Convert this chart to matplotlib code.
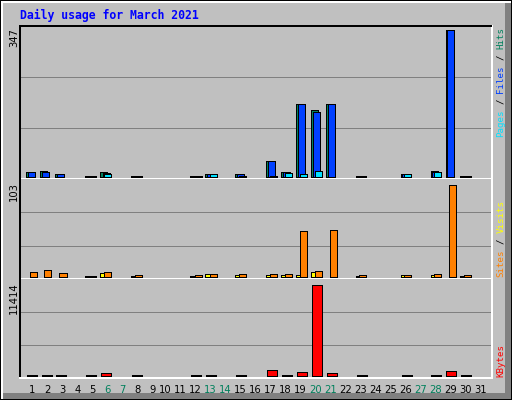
import matplotlib
matplotlib.use("Agg")
import matplotlib.pyplot as plt
from matplotlib.patches import Rectangle

# ---------------- data ----------------
days = list(range(1, 32))
hits   = [11, 13, 6, 0, 1, 11, 0, 1, 0, 0, 0, 1, 6, 0, 6, 0, 37, 11, 172, 156, 172, 0, 1, 0, 0, 5, 0, 13, 347, 1, 0]
files  = [11, 11, 6, 0, 1, 9, 0, 1, 0, 0, 0, 1, 6, 0, 5, 0, 37, 10, 172, 152, 172, 0, 1, 0, 0, 5, 0, 11, 346, 1, 0]
pages  = [0, 0, 0, 0, 1, 6, 0, 1, 0, 0, 0, 1, 6, 0, 1, 0, 1, 8, 6, 13, 0, 0, 1, 0, 0, 5, 0, 10, 0, 1, 0]
visits = [0, 0, 0, 0, 1, 4, 0, 1, 0, 0, 0, 1, 3, 0, 2, 0, 2, 2, 2, 5, 0, 0, 1, 0, 0, 2, 0, 2, 0, 1, 0]
sites  = [5, 7, 4, 0, 1, 5, 0, 2, 0, 0, 0, 2, 3, 0, 3, 0, 3, 3, 51, 6, 52, 0, 2, 0, 0, 2, 0, 3, 103, 2, 0]
kbytes = [100, 100, 100, 0, 100, 330, 0, 100, 0, 0, 0, 100, 100, 0, 100, 0, 665, 60, 415, 11414, 290, 0, 60, 0, 0, 60, 0, 60, 540, 80, 0]
weekend_days = [6, 7, 13, 14, 20, 21, 27, 28]
title = "Daily usage for March 2021"

# ---------------- style ----------------
W, H = 512, 400
BG = "#c0c0c0"
C_HITS, C_FILES, C_PAGES = "#00805c", "#0040ff", "#00e0ff"
C_VISITS, C_SITES, C_KB = "#ffff00", "#ff8000", "#ff0000"
PX = 0.72  # one pixel in points

fig = plt.figure(figsize=(W / 100, H / 100), dpi=100, facecolor=BG)

def fx(x):
    return x / W

def fy(y):
    return 1 - y / H

# outer frame
def prect(x0, y0, x1, y1, color):
    fig.patches.append(Rectangle((fx(x0), fy(y1)), fx(x1) - fx(x0), fy(y0) - fy(y1),
                                 transform=fig.transFigure, facecolor=color,
                                 edgecolor="none", zorder=-10))

prect(0, 0, 512, 400, "black")
prect(1, 1, 511, 399, "white")
prect(3, 3, 511, 399, "#808080")
prect(3, 3, 505, 393, BG)

X0, X1 = 20, 491.5

def xdata(px):
    return 1 + (px - 25) / 15.0

def add_panel(top, bottom, zero_px, max_px, maxval, top_spine):
    ax = fig.add_axes([fx(X0), fy(bottom), fx(X1) - fx(X0), fy(top) - fy(bottom)])
    scale = (zero_px - max_px) / maxval
    ax.set_ylim(-(bottom - zero_px) / scale, maxval + (max_px - top) / scale)
    ax.set_xlim(xdata(X0), xdata(X1))
    ax.set_facecolor(BG)
    for f in (1 / 3, 2 / 3):
        ax.plot([0, 1], [f, f], transform=ax.transAxes, color="#808080", lw=PX, zorder=0.5)
    ax.spines["left"].set_color("black")
    ax.spines["left"].set_linewidth(2 * PX)
    ax.spines["right"].set_color("white")
    ax.spines["right"].set_linewidth(2 * PX)
    ax.spines["bottom"].set_color("white")
    ax.spines["bottom"].set_linewidth(2 * PX)
    if top_spine:
        ax.spines["top"].set_color("black")
        ax.spines["top"].set_linewidth(2 * PX)
    else:
        ax.spines["top"].set_visible(False)
    ax.set_yticks([])
    ax.set_xticks([])
    return ax

def bars(ax, vals, offset_px, width_px, color):
    xs = [d + offset_px / 15.0 for d, v in zip(days, vals) if v > 0]
    hs = [v for v in vals if v > 0]
    ax.bar(xs, hs, width=width_px / 15.0, align="edge", color=color,
           edgecolor="black", linewidth=PX, zorder=2, antialiased=False)

ax1 = add_panel(25.5, 179, 176.5, 29.5, max(hits), True)
bars(ax1, hits, 0.5, 7, C_HITS)
bars(ax1, files, 2.5, 7, C_FILES)
bars(ax1, pages, 4.5, 7, C_PAGES)

ax2 = add_panel(179, 279, 276.5, 184.5, max(sites), False)
bars(ax2, visits, 0.5, 7, C_VISITS)
bars(ax2, sites, 4.5, 7, C_SITES)

ax3 = add_panel(279, 377.5, 375.5, 284.5, max(kbytes), False)
bars(ax3, kbytes, 1.5, 10, C_KB)

# day labels
ax3.set_xticks([d + (7.5 if d < 10 else 5.5) / 15.0 for d in days])
ax3.set_xticklabels([str(d) for d in days], fontsize=7.2, family="DejaVu Sans")
for lab, d in zip(ax3.get_xticklabels(), days):
    lab.set_color(C_HITS if d in weekend_days else "black")
ax3.tick_params(axis="x", length=0, pad=5.5)

# left max labels
for txt, ytop in ((str(max(hits)), 28), (str(max(sites)), 182), (str(max(kbytes)), 282)):
    fig.text(fx(14), fy(ytop), txt, rotation=90, ha="center", va="top",
             fontsize=7.2, family="DejaVu Sans", color="black")

# title
fig.text(fx(20), fy(19), title, color="#0000ff", family="DejaVu Sans Mono",
         fontweight="bold", fontsize=8.3, ha="left", va="baseline")

# right legends (multi-coloured, rotated)
ADV = 5.5
def legend(bottom_px, segments):
    pos = 0
    for s, c in segments:
        fig.text(fx(501), fy(bottom_px - pos * ADV), s,
                 rotation=90, ha="center", va="bottom", color=c,
                 family="DejaVu Sans Mono", fontsize=6.6)
        pos += len(s) + 1

legend(137, [("Pages", C_PAGES), ("/", "black"), ("Files", C_FILES), ("/", "black"), ("Hits", C_HITS)])
legend(277, [("Sites", C_SITES), ("/", "black"), ("Visits", C_VISITS)])
legend(377, [("KBytes", C_KB)])

fig.savefig("out.png", dpi=100, facecolor=BG)
